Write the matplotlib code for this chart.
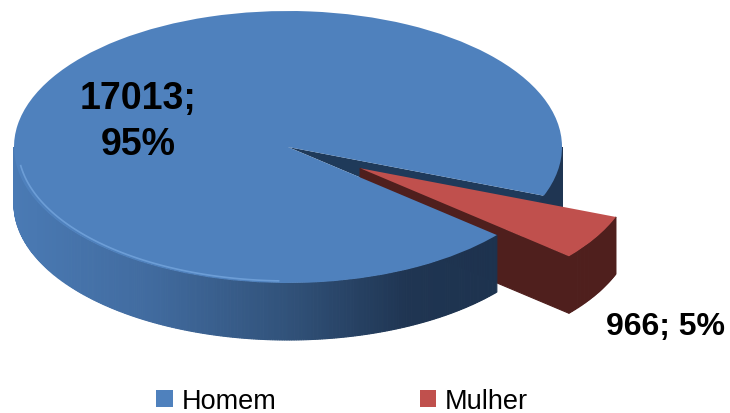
import numpy as np
import matplotlib
matplotlib.use('Agg')
import matplotlib.pyplot as plt
from matplotlib.colors import LinearSegmentedColormap

categories = ['Homem', 'Mulher']
values = [17013, 966]
colors = ['#4f81bd', '#c0504d']
data_labels = ['17013;\n95%', '966; 5%']

plt.rcParams['font.family'] = ['Liberation Sans', 'DejaVu Sans']

# pie geometry in pixels of the 730x414 picture
cx, cy, a, b = 288, 148, 274, 136
depth = 57 / b

fig = plt.figure(figsize=(7.3, 4.14), dpi=100)
ax = fig.add_axes([0, 0, 1, 1])

rim_cmap = LinearSegmentedColormap.from_list(
    'rim', [(0, '#4a7ab4'), (0.25, '#416b9f'), (0.5, '#31527a'), (0.72, '#1f3552'), (1, '#1c314c')])


def draw_rim(center, t1, t2, zorder, color=None):
    # side of the disc, cut in thin strips so the shade can change along x
    angles = np.radians(np.linspace(t1, t2, int((t2 - t1) * 2) + 2))
    for i in range(len(angles) - 1):
        xs = center[0] + np.cos(angles[i:i + 2])
        ys = center[1] + np.sin(angles[i:i + 2])
        c = color if color else rim_cmap((xs.mean() + 1) / 2)
        ax.fill([xs[0], xs[1], xs[1], xs[0]],
                [ys[0], ys[1], ys[1] - depth, ys[0] - depth],
                color=c, lw=0.8, zorder=zorder)


startangle = 339
wedges, _ = ax.pie(values, colors=colors, explode=[0, 0.306], startangle=startangle, radius=1)
homem, mulher = wedges

# the gap left by the pulled out slice
gap, _ = ax.pie(values, colors=['none', '#1f3a5a'], startangle=startangle, radius=1)
gap[1].set_zorder(1)

# dark side starts inside the gap, the red slice hides that part
draw_rim((0, 0), (homem.theta2 - 360 + startangle) / 2, 360, 1.5, '#1f3552')

# red slice: cut face, outer side, top
t_low = mulher.theta1
px, py = mulher.center
ex = px + np.cos(np.radians(t_low))
ey = py + np.sin(np.radians(t_low))
ax.fill([px, ex, ex, px], [py, ey, ey - depth, py - depth], color='#4f1f1d', lw=0.8, zorder=2)
draw_rim(mulher.center, mulher.theta1, mulher.theta2, 2, '#4f1f1d')
mulher.set_zorder(3)

# blue side and top go over the red slice (pie angles run past 360 here)
draw_rim((0, 0), 180, homem.theta2 - 360, 4)
homem.set_zorder(5)

arc = np.radians(np.linspace(188, 268, 120))
ax.plot(0.985 * np.cos(arc), 0.985 * np.sin(arc), color='#74a5dd', lw=1.2, alpha=0.8, zorder=6)

ax.set_aspect('auto')
ax.set_xlim(-cx / a, (730 - cx) / a)
ax.set_ylim((cy - 414) / b, cy / b)
ax.axis('off')

ax.text((138 - cx) / a, (cy - 122) / b, data_labels[0], ha='center', va='center',
        fontsize=27, fontweight='bold', color='black', linespacing=1.34, zorder=7)
ax.text((665 - cx) / a, (cy - 327) / b, data_labels[1], ha='center', va='center',
        fontsize=23, fontweight='bold', color='black', zorder=7)

fig.legend(wedges, categories, loc='center', ncol=2, frameon=False, fontsize=19.5,
           bbox_to_anchor=(342 / 730, 1 - 402 / 414), handlelength=0.62, handleheight=0.62,
           handletextpad=0.3, columnspacing=5.3, borderpad=0, labelcolor='black')

fig.savefig('out.png', dpi=100)
